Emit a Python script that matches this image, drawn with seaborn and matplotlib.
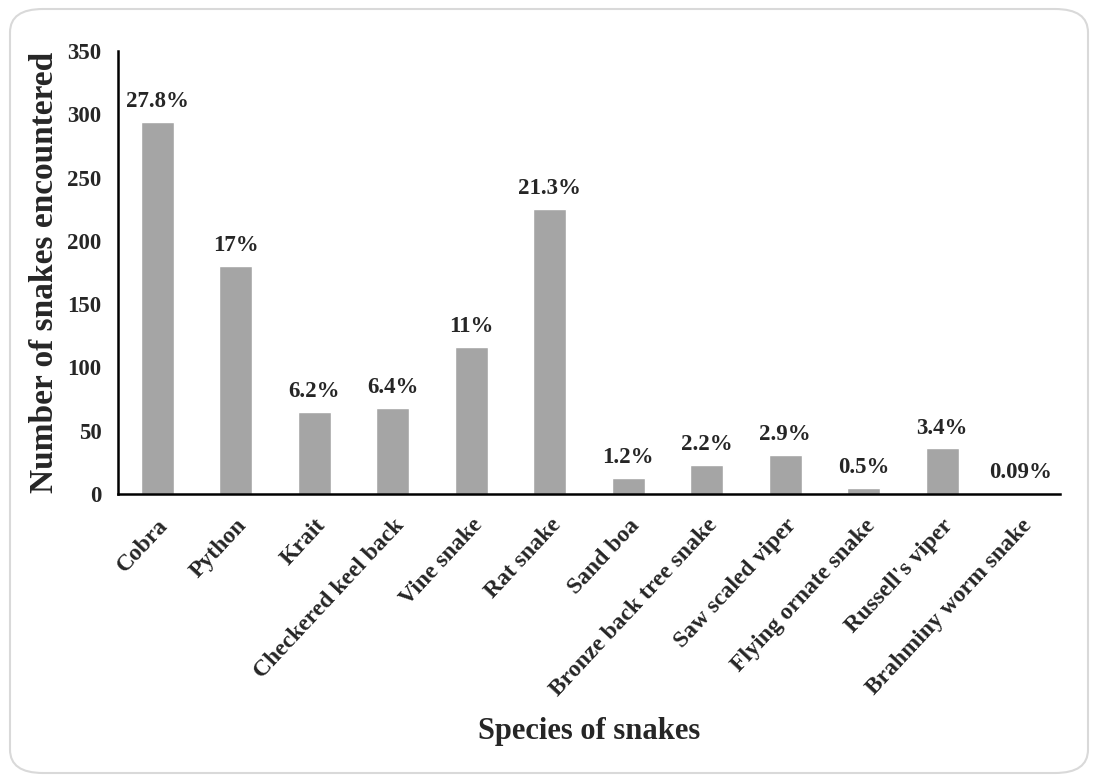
import matplotlib
matplotlib.use("Agg")
import matplotlib.pyplot as plt
import seaborn as sns
import pandas as pd
from matplotlib.patches import FancyBboxPatch

species = ["Cobra", "Python", "Krait", "Checkered keel back", "Vine snake", "Rat snake",
           "Sand boa", "Bronze back tree snake", "Saw scaled viper", "Flying ornate snake",
           "Russell's viper", "Brahminy worm snake"]
counts = [294, 180, 65, 68, 116, 225, 13, 23, 31, 5, 36, 1]
percent_labels = ["27.8%", "17%", "6.2%", "6.4%", "11%", "21.3%", "1.2%", "2.2%", "2.9%",
                  "0.5%", "3.4%", "0.09%"]
yticks = [0, 50, 100, 150, 200, 250, 300, 350]

sns.set_style("white")
plt.rcParams['font.family'] = ['Liberation Serif', 'DejaVu Serif']
plt.rcParams['font.weight'] = 'bold'

df = pd.DataFrame({"Species": species, "Count": counts})

fig = plt.figure(figsize=(10.99, 7.79), dpi=100)
ax = fig.add_axes([118/1099, 1-494/779, (1060-118)/1099, (494-51)/779])

sns.barplot(data=df, x="Species", y="Count", color="#A5A5A5", saturation=1,
            width=0.42, ax=ax)

for i, (c, lab) in enumerate(zip(counts, percent_labels)):
    ax.annotate(lab, (i, c), xytext=(0, 7), textcoords="offset points",
                ha="center", va="bottom", fontsize=16.5, fontweight="bold")

ax.set_ylim(0, 350)
ax.set_yticks(yticks)
ax.set_xlim(-0.5, len(species) - 0.5)
ax.tick_params(axis='y', length=0, labelsize=16.5, pad=12)
ax.tick_params(axis='x', length=0, labelsize=17, pad=15)
for lbl in ax.get_yticklabels():
    lbl.set_fontweight("bold")
ax.set_xticks(range(len(species)))
ax.set_xticklabels(species, rotation=47, ha="right", rotation_mode="anchor",
                   fontsize=17, fontweight="bold")
ax.set_ylabel("Number of snakes encountered", fontsize=24, fontweight="bold", labelpad=5)
ax.set_xlabel("Species of snakes", fontsize=22, fontweight="bold", labelpad=12)

for s in ["top", "right"]:
    ax.spines[s].set_visible(False)
for s in ["left", "bottom"]:
    ax.spines[s].set_color("black")
    ax.spines[s].set_linewidth(1.8)

border = FancyBboxPatch((10/1099, 6/779), 1078/1099, 764/779,
                        boxstyle="round,pad=0,rounding_size=0.03",
                        transform=fig.transFigure, fill=False,
                        edgecolor="#D9D9D9", linewidth=1.5)
fig.patches.append(border)

fig.savefig("out.png", dpi=100)
